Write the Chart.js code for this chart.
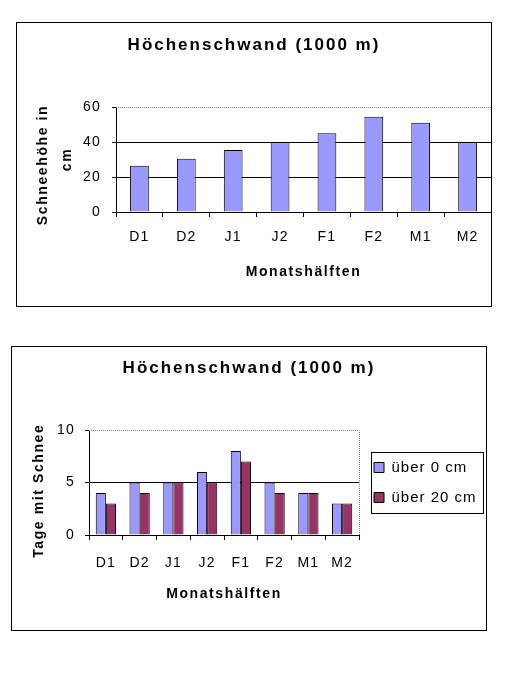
<!DOCTYPE html>
<html><head><meta charset="utf-8">
<script src="https://cdn.jsdelivr.net/npm/chart.js@4"></script>
<style>
body{margin:0;background:#fff;}
.box{position:absolute;border:1px solid #000;}
canvas{display:block;}
</style></head><body>
<div class="box" style="left:16px;top:22px;width:474px;height:283px"><canvas id="c1" width="474" height="283"></canvas></div>
<div class="box" style="left:11px;top:346px;width:474px;height:283px"><canvas id="c2" width="474" height="283"></canvas></div>
<script>
// ---- data ----
const categories = ['D1','D2','J1','J2','F1','F2','M1','M2'];
const snowDepth = [26.5, 30.5, 35.5, 40, 45, 54.5, 51, 40];
const depthTicks = [0, 20, 40, 60];
const daysOver0 = [4, 5, 5, 6, 8, 5, 4, 3];
const daysOver20 = [3, 4, 5, 5, 7, 4, 4, 3];
const daysTicks = [0, 5, 10];
const chartTitle = 'Höchenschwand (1000 m)';
const xTitle = 'Monatshälften';
const depthTitle = ['Schneehöhe in  ', 'cm'];
const daysTitle = 'Tage mit Schnee   ';
const seriesNames = ['über 0 cm', 'über 20 cm'];

const F = "'Liberation Sans', Arial, sans-serif";
const BLUE = '#9999FF', RED = '#993366';

// letter spacing emulation of the old Windows text rendering
function spacingFor(font){
  const m = /(\d+(?:\.\d+)?)px/.exec(font); const size = m ? +m[1] : 12;
  const bold = /bold|700/.test(font);
  if (bold) return size >= 16 ? '2px' : '1.6px';
  return size >= 15 ? '1px' : '1.2px';
}
function patchCtx(canvas){
  const ctx = canvas.getContext('2d');
  const ft = ctx.fillText.bind(ctx), mt = ctx.measureText.bind(ctx);
  ctx.fillText = function(t, x, y, mw){ ctx.letterSpacing = spacingFor(ctx.font); return mw === undefined ? ft(t, x, y) : ft(t, x, y, mw); };
  ctx.measureText = function(t){ ctx.letterSpacing = spacingFor(ctx.font); return mt(t); };
}

const plotFrame = {
  id: 'plotFrame',
  afterDatasetsDraw(chart){
    const {ctx, chartArea: a} = chart;
    ctx.save();
    ctx.strokeStyle = '#808080'; ctx.lineWidth = 1; ctx.setLineDash([1, 1]);
    ctx.beginPath();
    ctx.moveTo(Math.round(a.left), Math.round(a.top) + 0.5);
    ctx.lineTo(Math.round(a.right) + 0.5, Math.round(a.top) + 0.5);
    ctx.lineTo(Math.round(a.right) + 0.5, Math.round(a.bottom));
    ctx.stroke();
    ctx.restore();
  }
};
const legendFrame = {
  id: 'legendFrame',
  afterDraw(chart){
    const L = chart.legend; if (!L || !L.legendHitBoxes || !L.legendHitBoxes.length) return;
    let l = Infinity, t = Infinity, r = -Infinity, b = -Infinity;
    L.legendHitBoxes.forEach(h => { l = Math.min(l, h.left); t = Math.min(t, h.top); r = Math.max(r, h.left + h.width); b = Math.max(b, h.top + h.height); });
    const x0 = Math.round(l - 3), y0 = Math.round(t - 8);
    const x1 = Math.min(Math.round(r + 7), chart.width - 3), y1 = Math.round(b + 8);
    const ctx = chart.ctx; ctx.save(); ctx.strokeStyle = '#000'; ctx.lineWidth = 1;
    ctx.strokeRect(x0 + 0.5, y0 + 0.5, x1 - x0, y1 - y0);
    ctx.restore();
  }
};

function xScale(h, tickPad, titlePad){
  return {
    grid: {display: true, drawOnChartArea: false, drawTicks: true, tickLength: 5, tickColor: '#000', offset: true},
    border: {color: '#000', width: 1},
    ticks: {color: '#000', font: {size: 14, family: F}, padding: tickPad, maxRotation: 0, autoSkip: false},
    title: {display: true, text: xTitle, color: '#000', font: {size: 14, weight: 'bold', family: F}, padding: {top: 0, bottom: titlePad}},
    afterFit(s){ s.height = h; }
  };
}
function yScale(ticksArr, w, title, lh, titlePad, tickPad){
  const mx = ticksArr[ticksArr.length - 1];
  return {
    min: ticksArr[0], max: mx,
    afterBuildTicks(s){ s.ticks = ticksArr.map(v => ({value: v})); },
    ticks: {color: '#000', font: {size: 14, family: F}, padding: tickPad},
    grid: {color: c => (c.tick && c.tick.value === mx) ? 'rgba(0,0,0,0)' : '#000', tickLength: 4, tickColor: '#000', drawTicks: true},
    border: {color: '#000', width: 1},
    title: {display: true, text: title, color: '#000', font: {size: 14, weight: 'bold', family: F, lineHeight: lh}, padding: {top: titlePad, bottom: 0}},
    afterFit(s){ s.width = w; }
  };
}

const c1 = document.getElementById('c1'); patchCtx(c1);
new Chart(c1, {
  type: 'bar',
  data: {labels: categories, datasets: [{label: 'Schneehöhe', data: snowDepth, backgroundColor: BLUE, borderColor: '#000', borderWidth: 1, barPercentage: 0.4, categoryPercentage: 1}]},
  options: {
    responsive: false, animation: false, devicePixelRatio: 1,
    layout: {padding: 0},
    plugins: {
      legend: {display: false}, tooltip: {enabled: false},
      title: {display: true, text: chartTitle, color: '#000', font: {size: 17, weight: 'bold', family: F}, padding: {top: 12.3, bottom: 51.3}}
    },
    scales: {x: xScale(94, 12, 25), y: yScale(depthTicks, 99, depthTitle, 1.67, 14.6, 11)}
  },
  plugins: [plotFrame]
});

const c2 = document.getElementById('c2'); patchCtx(c2);
new Chart(c2, {
  type: 'bar',
  data: {labels: categories, datasets: [
    {label: seriesNames[0], data: daysOver0, backgroundColor: BLUE, borderColor: '#000', borderWidth: 1, barPercentage: 1, categoryPercentage: 0.6},
    {label: seriesNames[1], data: daysOver20, backgroundColor: RED, borderColor: '#000', borderWidth: 1, barPercentage: 1, categoryPercentage: 0.6}
  ]},
  options: {
    responsive: false, animation: false, devicePixelRatio: 1,
    layout: {padding: 0},
    plugins: {
      tooltip: {enabled: false},
      legend: {display: true, position: 'right', fullSize: false, maxWidth: 127,
        labels: {color: '#000', boxWidth: 10, boxHeight: 10, padding: 15, font: {size: 15, family: F}}},
      title: {display: true, text: chartTitle, color: '#000', font: {size: 17, weight: 'bold', family: F}, padding: {top: 10.8, bottom: 51.8}}
    },
    scales: {x: xScale(95, 15, 27), y: yScale(daysTicks, 77, daysTitle, 1.2, 18.6, 10)}
  },
  plugins: [plotFrame, legendFrame]
});
</script>
</body></html>
